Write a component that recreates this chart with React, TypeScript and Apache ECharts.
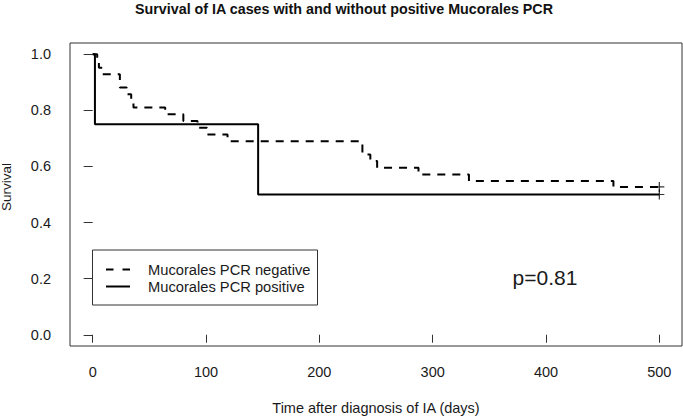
import React, { useEffect, useRef } from "react";
import * as echarts from "echarts";

const titleText = "Survival of IA cases with and without positive Mucorales PCR";
const xAxisTitle = "Time after diagnosis of IA (days)";
const yAxisTitle = "Survival";
const pValueText = "p=0.81";
const legendNames = ["Mucorales PCR negative", "Mucorales PCR positive"];

const xTicks = [0, 100, 200, 300, 400, 500];
const yTicks = [0, 0.2, 0.4, 0.6, 0.8, 1.0];

// Mucorales PCR negative (dashed)
const negTimes = [0, 4, 5.5, 8.5, 24, 30, 34, 36, 64, 80, 92.5, 101, 119, 238, 245, 251, 287.5, 332, 459.5, 500];
const negSurv = [1, 0.976, 0.952, 0.929, 0.881, 0.857, 0.833, 0.81, 0.786, 0.762, 0.738, 0.714, 0.69, 0.643, 0.619, 0.595, 0.571, 0.548, 0.527, 0.527];

// Mucorales PCR positive (solid)
const posTimes = [0, 2, 146, 500];
const posSurv = [1, 0.75, 0.5, 0.5];

// censoring marks
const censorTimes = [500, 500];
const censorSurv = [0.527, 0.5];

const FONT = "'Liberation Sans', Arial, sans-serif";
const TXT = "#1a1a1a";

export default function App() {
  const ref = useRef<HTMLDivElement>(null);
  useEffect(() => {
    if (!ref.current) return;
    const chart = echarts.init(ref.current, undefined, { renderer: "svg" });
    const negData = negTimes.map((t, i) => [t, negSurv[i]]);
    const posData = posTimes.map((t, i) => [t, posSurv[i]]);
    const censorData = censorTimes.map((t, i) => [t, censorSurv[i]]);
    chart.setOption({
      animation: false,
      backgroundColor: "#ffffff",
      grid: {
        left: 70,
        top: 43,
        width: 612,
        height: 303,
        show: true,
        borderColor: "#333",
        borderWidth: 1,
        backgroundColor: "transparent",
      },
      xAxis: {
        type: "value",
        min: -20,
        max: 520,
        axisLine: { show: false },
        splitLine: { show: false },
        axisTick: {
          show: true,
          customValues: xTicks,
          length: 8,
          lineStyle: { color: "#333", width: 1 },
        },
        axisLabel: {
          customValues: xTicks,
          margin: 18,
          fontSize: 14.5,
          fontFamily: FONT,
          color: TXT,
        },
      },
      yAxis: {
        type: "value",
        min: -0.04,
        max: 1.04,
        axisLine: { show: false },
        splitLine: { show: false },
        axisTick: {
          show: true,
          customValues: yTicks,
          length: 9,
          lineStyle: { color: "#333", width: 1 },
        },
        axisLabel: {
          customValues: yTicks,
          margin: 19,
          fontSize: 14.5,
          fontFamily: FONT,
          color: TXT,
          formatter: (v: number) => v.toFixed(1),
        },
      },
      series: [
        {
          type: "line",
          name: legendNames[0],
          step: "end",
          data: negData,
          showSymbol: false,
          lineStyle: { color: "#000", width: 2, type: [8, 7] },
          z: 3,
        },
        {
          type: "line",
          name: legendNames[1],
          step: "end",
          data: posData,
          showSymbol: false,
          lineStyle: { color: "#000", width: 2, type: "solid" },
          z: 3,
        },
        {
          type: "scatter",
          data: censorData,
          symbol: "path://M5,0L5,10M0,5L10,5",
          symbolSize: 10,
          itemStyle: { color: "none", borderColor: "#000", borderWidth: 1.2 },
          z: 4,
        },
      ],
      graphic: [
        {
          type: "text",
          x: 344,
          y: 9,
          scaleY: 1.08,
          style: {
            text: titleText,
            fontSize: 14.3,
            fontWeight: "bold",
            fontFamily: FONT,
            fill: "#111",
            align: "center",
            verticalAlign: "middle",
          },
        },
        {
          type: "text",
          x: 376,
          y: 408,
          style: {
            text: xAxisTitle,
            fontSize: 14.5,
            fontFamily: FONT,
            fill: TXT,
            align: "center",
            verticalAlign: "middle",
          },
        },
        {
          type: "text",
          x: 6,
          y: 187,
          rotation: Math.PI / 2,
          style: {
            text: yAxisTitle,
            fontSize: 13.5,
            fontFamily: FONT,
            fill: TXT,
            align: "center",
            verticalAlign: "middle",
          },
        },
        {
          type: "text",
          x: 545,
          y: 277,
          style: {
            text: pValueText,
            fontSize: 21,
            fontFamily: FONT,
            fill: TXT,
            align: "center",
            verticalAlign: "middle",
          },
        },
        {
          type: "rect",
          shape: { x: 92.5, y: 250, width: 225, height: 55 },
          style: { fill: "#fff", stroke: "#333", lineWidth: 1 },
          z: 10,
        },
        {
          type: "line",
          shape: { x1: 106, y1: 269.5, x2: 130, y2: 269.5 },
          style: { stroke: "#000", lineWidth: 2, lineDash: [7.5, 9] },
          z: 11,
        },
        {
          type: "line",
          shape: { x1: 106, y1: 286.5, x2: 130, y2: 286.5 },
          style: { stroke: "#000", lineWidth: 2 },
          z: 11,
        },
        {
          type: "text",
          x: 148,
          y: 269.5,
          style: {
            text: legendNames[0],
            fontSize: 14.7,
            fontFamily: FONT,
            fill: TXT,
            align: "left",
            verticalAlign: "middle",
          },
          z: 11,
        },
        {
          type: "text",
          x: 148,
          y: 287,
          style: {
            text: legendNames[1],
            fontSize: 14.7,
            fontFamily: FONT,
            fill: TXT,
            align: "left",
            verticalAlign: "middle",
          },
          z: 11,
        },
      ],
    });
    return () => chart.dispose();
  }, []);
  return (
    <div
      ref={ref}
      style={{ position: "fixed", left: 0, top: 0, width: 683, height: 419 }}
    />
  );
}
